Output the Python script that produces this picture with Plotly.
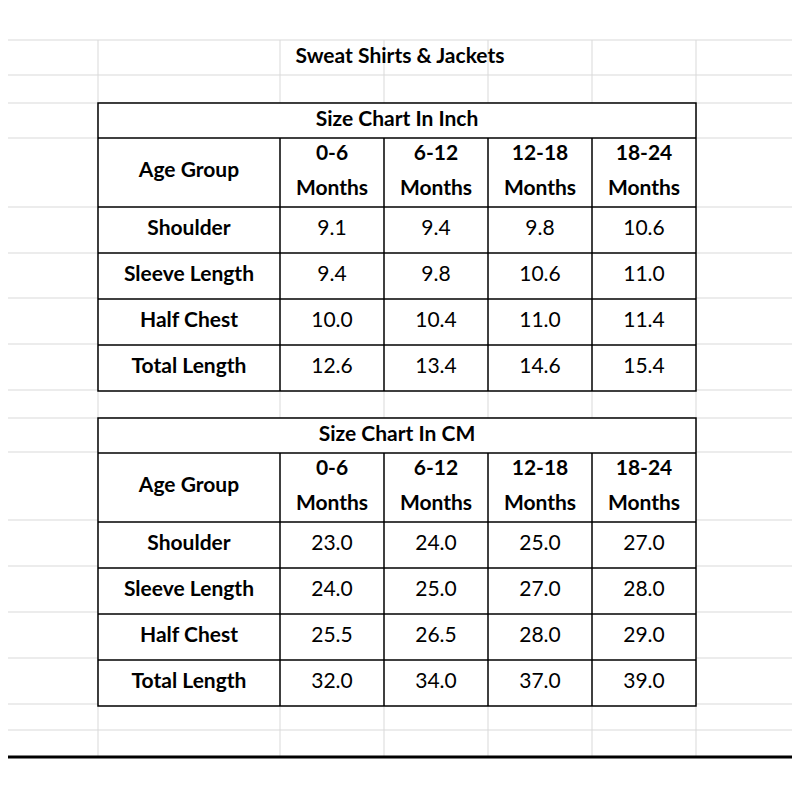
import plotly.graph_objects as go

title = "Sweat Shirts & Jackets"
age_label = "Age Group"
groups_top = ["0-6", "6-12", "12-18", "18-24"]
groups_bottom = ["Months", "Months", "Months", "Months"]
measures = ["Shoulder", "Sleeve Length", "Half Chest", "Total Length"]
inch_title = "Size Chart In Inch"
inch_values = [["9.1", "9.4", "9.8", "10.6"],
               ["9.4", "9.8", "10.6", "11.0"],
               ["10.0", "10.4", "11.0", "11.4"],
               ["12.6", "13.4", "14.6", "15.4"]]
cm_title = "Size Chart In CM"
cm_values = [["23.0", "24.0", "25.0", "27.0"],
             ["24.0", "25.0", "27.0", "28.0"],
             ["25.5", "26.5", "28.0", "29.0"],
             ["32.0", "34.0", "37.0", "39.0"]]

# layout geometry (pixels)
col_edges = [98, 280, 384, 488, 592, 696]
grid_rows = [40, 75, 103, 138, 207, 253, 298, 344, 390, 418, 452, 520, 566, 612, 658, 704, 730, 757]
tables = [(103, inch_title, inch_values), (418, cm_title, cm_values)]
FONT = "Lato"
FS = 21

fig = go.Figure()
shapes = []
light = dict(color="#d9d9d9", width=1)
for x in col_edges:
    shapes.append(dict(type="line", x0=x, x1=x, y0=40, y1=757, line=light, layer="below"))
for y in grid_rows:
    shapes.append(dict(type="line", x0=0, x1=797, y0=y, y1=y, line=light, layer="below"))

bx, by, bt = [], [], []
nx, ny, nt = [], [], []
bx.append(400); by.append(58); bt.append(title)
blk = dict(color="black", width=1.5)
for top, ttl, vals in tables:
    hdr = top + 35
    hdr_end = hdr + 69
    rows = [hdr_end + i * 46 for i in range(5)]
    bottom = rows[-1]
    shapes.append(dict(type="rect", x0=98, x1=696, y0=top, y1=bottom,
                       fillcolor="white", line=blk, layer="below"))
    for y in [hdr] + rows[:-1]:
        shapes.append(dict(type="line", x0=98, x1=696, y0=y, y1=y, line=blk, layer="below"))
    for x in col_edges[1:-1]:
        shapes.append(dict(type="line", x0=x, x1=x, y0=hdr, y1=bottom, line=blk, layer="below"))
    bx.append(397); by.append(top + 18); bt.append(ttl)
    bx.append(189); by.append(hdr + 34); bt.append(age_label)
    for j in range(4):
        cx = (col_edges[j + 1] + col_edges[j + 2]) / 2
        bx += [cx, cx]; by += [hdr + 17, hdr + 52]; bt += [groups_top[j], groups_bottom[j]]
    for i, m in enumerate(measures):
        cy = (rows[i] + rows[i + 1]) / 2
        bx.append(189); by.append(cy); bt.append(m)
        for j in range(4):
            cx = (col_edges[j + 1] + col_edges[j + 2]) / 2
            nx.append(cx); ny.append(cy); nt.append(vals[i][j])

shapes.append(dict(type="line", x0=797, x1=797, y0=40, y1=758, line=dict(color="black", width=3), layer="below"))
shapes.append(dict(type="line", x0=0, x1=798, y0=757, y1=757, line=dict(color="black", width=3), layer="below"))

fig.add_trace(go.Scatter(x=bx, y=by, text=bt, mode="text", hoverinfo="skip",
                         textfont=dict(family=FONT, size=FS, color="black", weight="bold")))
fig.add_trace(go.Scatter(x=nx, y=ny, text=nt, mode="text", hoverinfo="skip",
                         textfont=dict(family=FONT, size=FS, color="black")))
fig.update_layout(width=800, height=800, margin=dict(l=0, r=0, t=0, b=0),
                  paper_bgcolor="white", plot_bgcolor="white", showlegend=False,
                  shapes=shapes,
                  xaxis=dict(range=[8, 808], visible=False, fixedrange=True),
                  yaxis=dict(range=[808, 8], visible=False, fixedrange=True))
fig.write_html("out.html")
